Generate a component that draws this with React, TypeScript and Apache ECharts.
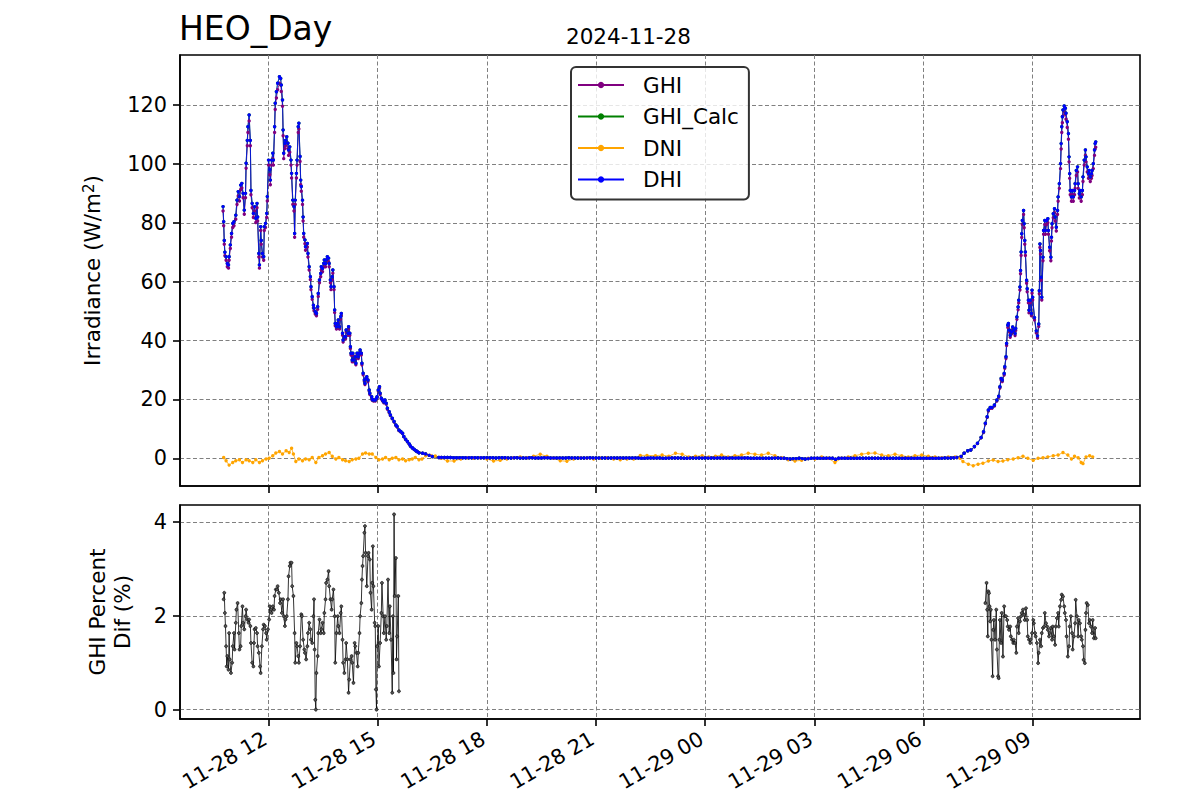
import React, { useEffect, useRef } from 'react';
import * as echarts from 'echarts';

// time values: minutes after 2024-11-28 00:00
const tDay1 = [645,646,647,648,650,652,654,655,657,659,661,663,666,668,670,672,674,676,678,680,682,683,685,686,688,690,691,693,695,697,699,701,702,704,705,707,708,710,712,713,715,717,718,720,722,723,725,727,728,730,731,733,735,738,740,741,743,744,745,747,748,750,752,753,755,757,758,760,762,763,764,766,767,769,770,772,773,774,776,777,778,780,781,784,785,787,789,790,792,794,795,797,799,801,802,804,806,807,809,811,812,814,815,817,819,820,822,823,825,826,828,829,830,832,834,835,837,839,840,842,843,845,847,848,851,852,854,855,856,858,859,861,863,864,866,868,869,871,873,874,876,878,879,881,882,884,886,887,890,891,893,896,898,899,901,903,904,906,908,910,912,914,916,919,921,924,927,930,932,935,938,941,943,946,949,952,954,957,960,963,965,968,974,979,985,990,1001];
const dhiDay1 = [85.5,80.4,74,70,68.5,66.2,65.7,68.5,72.5,76.4,79.8,80.4,82.6,87.7,90.6,88.9,92.8,93.4,90,84.3,90,100.2,108,112.6,116.6,108,91,86.6,83.2,85.5,81.5,86.6,82,69.6,65.7,78.7,74,69.6,68.5,78.7,79.8,83.2,88.9,101.3,98,94.5,101.3,103.6,101.3,112.6,120.6,124.5,127.4,129.6,129,126.8,121.7,111.5,103.6,107,108,109.2,107,104.7,105.8,101.3,96.8,87.7,85.5,76.4,87.7,96.8,101.3,112.6,113.8,102.5,94.5,92.3,87.7,82,76.4,74.2,71.9,73,69.6,65.1,61.7,58.3,54.9,52,51,49.8,49.2,51.5,56,60.6,62.8,65.1,64.5,66.2,67.4,66.2,67.4,68.5,68,66.2,60.6,58.3,61.7,64,58.3,50.4,45.8,44.7,45.8,47,44.7,48.1,49.2,42.5,40.2,41.3,41.3,43.6,42.5,44.7,42.5,37.9,35.7,33.4,35.7,33.4,34.5,32.3,35.7,34.5,35.7,36.8,35.7,32.3,28.9,26.6,25.5,27.2,27.7,26.6,23.2,22.1,20.9,20,19.8,19.8,20.4,20.9,23.2,24.3,22.1,20.4,19.8,19.2,19.8,18.7,17,15.8,14.7,13.6,12.5,11.3,10.8,9.6,9.1,8.5,7.4,6.5,5.7,4.9,4.2,3.6,3.1,2.6,2.3,1.9,1.7,1.5,1.0,0.6,0.3];
const ghiDay1 = [84.0,79.0,72.7,68.8,67.3,65.1,64.6,67.3,71.3,75.1,78.4,79.0,81.2,86.2,89.1,87.4,91.2,91.8,88.5,82.9,88.5,98.5,106.2,110.7,114.6,106.2,89.5,85.1,81.8,84.0,80.1,85.1,80.6,68.4,64.6,77.4,72.7,68.4,67.3,77.4,78.4,81.8,87.4,99.6,96.3,92.9,99.6,101.8,99.6,110.7,118.5,122.4,125.2,127.4,126.8,124.6,119.6,109.6,101.8,105.2,106.2,107.3,105.2,102.9,104.0,99.6,95.2,86.2,84.0,75.1,86.2,95.2,99.6,110.7,111.9,100.8,92.9,90.7,86.2,80.6,75.1,72.9,70.7,71.8,68.4,64.0,60.7,57.3,54.0,51.1,50.1,49.0,48.4,50.6,55.0,59.6,61.7,64.0,63.4,65.1,66.3,65.1,66.3,67.3,66.8,65.1,59.6,57.3,60.7,62.9,57.3,49.5,45.0,43.9,45.0,46.2,43.9,47.3,48.4,41.8,39.5,40.6,40.6,42.9,41.8,43.9,41.8,37.3,35.1,32.8,35.1,32.8,33.9,31.8,35.1,33.9,35.1,36.2,35.1,31.8,28.4,26.1,25.1,26.7,27.2,26.1,22.8,21.7,20.5,19.7,19.5,19.5,20.1,20.5,22.8,23.9,21.7,20.1,19.5,18.9,19.5,18.4,16.7,15.5,14.5,13.4,12.3,11.1,10.6,9.4,8.9,8.4,7.3,6.4,5.6,4.8,4.1,3.5,3.0,2.6,2.3,1.9,1.7,1.5,1.0,0.6,0.3];

const nightStart = 1005;
const nightStep = 5;
const dhiNight = [
  0.3,0.3,0.3,0.3,0.2,0.2,0.2,0.2,0.2,0.2,0.2,0.2,0.2,0.2,0.2,0.2,
  0.2,0.2,0.1,0.2,0.2,0.2,0.1,0.1,0.2,0.2,0.1,0.1,0.1,0.2,0.2,0.1,0.1,0.1,0.2,0.2,0.1,0.1,0.1,0.1,0.1,0.1,0.2,0.1,0.1,0.1,0.1,0.1,0.1,0.2,0.1,0.1,
  0.1,0.1,0.1,0.1,0.1,0.1,0.1,0.1,0.1,0.1,0.1,0.1,0.1,0.1,0,0,0.1,0.1,0.1,0.1,0.1,0,0,0.1,0.1,0.1,0.1,0.1,0,0,0.1,0.1,0.1,0.1,0.1,0.1,
  0.1,0.1,0.1,0.1,0.1,0.1,0.1,0.1,0.1,0.1,0.1,0.1,0.1,0.1,0,0,0,0,0,0,0,0,0.1,0.1,0,0,-0.1,-0.2,-0.1,-0.1,0,-0.1,-0.2,-0.1,0,0,
  0,0,0,0,0,0,-0.3,0,0,0,0,0,0,0,0,0,0,0,0,0,0,0,0,0,0,0,0,0,0,0,0,0,0,0,0,0,
  0,0,0,0,0,0,0.1,0.1,0.1,0.2,0.3
];

const tDay2 = [1862,1867,1873,1878,1884,1889,1895,1899,1902,1905,1907,1910,1913,1917,1921,1924,1926,1928,1930,1933,1934,1936,1937,1939,1940,1942,1943,1945,1947,1949,1951,1952,1954,1956,1957,1959,1960,1961,1962,1963,1965,1966,1967,1968,1970,1971,1973,1974,1976,1978,1979,1980,1983,1986,1988,1990,1991,1992,1993,1994,1995,1997,1998,2000,2001,2003,2005,2006,2008,2010,2011,2012,2014,2016,2017,2019,2021,2022,2024,2026,2027,2028,2029,2030,2032,2034,2035,2037,2039,2040,2041,2042,2044,2045,2047,2049,2050,2052,2054,2055,2057,2058,2060,2062,2063,2065,2067,2068,2070,2072,2073,2075,2077,2078,2080,2082,2083,2084];
const dhiDay2 = [0.6,1.7,2.6,2.8,4.0,5.1,7.1,9.0,11.9,14.1,16.4,17.3,17.3,18.1,19.8,21.1,24.3,27.1,26.6,28.8,31.1,34.5,39.0,45.2,45.8,43.5,41.8,42.9,44.6,43.5,42.4,44.1,48.0,51.4,53.7,58.2,63.8,70.1,76.3,80.8,84.2,79.7,74.0,70.1,60.5,57.6,53.7,50.3,53.7,49.2,57.1,54.7,47.8,43.3,41.6,45.6,56.9,72.8,70.6,61.5,54.7,68.3,77.4,80.8,77.4,80.8,81.4,77.4,71.7,68.3,75.1,79.7,83.1,84.8,82.0,78.5,84.2,88.8,93.3,100.1,106.9,112.6,116.0,118.3,119.7,118.9,117.2,114.3,110.3,102.4,96.7,91.0,88.8,91.0,88.8,91.0,93.3,97.8,99.0,93.3,89.9,91.0,88.8,91.0,95.6,101.3,104.7,102.4,99.0,96.7,97.8,95.6,96.7,97.8,100.1,104.7,106.9,107.5];
const ghiDay2 = [0.6,1.7,2.6,2.8,3.9,5.0,7.0,8.8,11.7,13.9,16.1,17.0,17.0,17.8,19.5,20.7,23.9,26.6,26.1,28.3,30.6,33.9,38.3,44.4,45.0,42.8,41.1,42.2,43.8,42.8,41.7,43.4,47.2,50.5,52.8,57.2,62.7,68.9,75.0,79.4,82.8,78.3,72.7,68.9,59.5,56.6,52.8,49.4,52.8,48.4,56.1,53.8,47.0,42.6,40.9,44.8,55.9,71.6,69.4,60.5,53.8,67.1,76.1,79.4,76.1,79.4,80.0,76.1,70.5,67.1,73.8,78.3,81.7,83.4,80.6,77.2,82.8,87.3,91.7,98.4,105.1,110.7,114.0,116.3,117.7,116.9,115.2,112.4,108.4,100.7,95.1,89.5,87.3,89.5,87.3,89.5,91.7,96.1,97.3,91.7,88.4,89.5,87.3,89.5,94.0,99.6,102.9,100.7,97.3,95.1,96.1,94.0,95.1,96.1,98.4,102.9,105.1,105.7];

const tDni = [646,650,655,661,666,672,677,683,688,694,699,705,710,716,721,727,732,738,743,749,754,758,761,765,770,776,781,787,792,798,803,809,814,820,825,831,836,842,847,853,858,864,869,875,880,886,891,897,902,908,913,919,924,930,935,941,946,952,957,962,968,973,979,987,995,1004,1015,1026,1037,1048,1058,1069,1080,1091,1102,1113,1124,1135,1146,1157,1168,1179,1190,1201,1212,1223,1234,1245,1256,1267,1278,1289,1300,1311,1322,1333,1344,1358,1369,1380,1391,1402,1413,1424,1435,1446,1457,1467,1478,1489,1500,1511,1522,1533,1544,1555,1566,1577,1588,1599,1610,1621,1632,1643,1654,1665,1676,1687,1698,1709,1720,1731,1742,1753,1764,1775,1786,1797,1808,1819,1830,1841,1852,1860,1865,1874,1882,1890,1898,1907,1915,1923,1931,1939,1948,1956,1964,1972,1981,1989,1997,2005,2014,2022,2030,2038,2044,2049,2055,2060,2063,2068,2074,2079];
const dni = [0.3,-0.8,-2.3,-1.4,-0.8,-0.5,-1.4,-0.5,-0.8,-1.4,-0.5,-1.4,-0.8,-0.2,0,0.9,1.8,2.3,1.5,2.6,2.0,3.4,1.5,-1.1,-0.2,-0.8,-0.2,-0.5,0.3,-1.4,0.3,0.9,1.5,2.0,0.7,-0.2,0.3,-0.5,-0.8,-1.1,-0.5,-0.2,0,1.5,1.8,1.5,1.5,0.3,-0.5,-0.2,0.3,-0.5,0,0.3,-0.5,-0.2,-0.8,-0.5,-0.2,0.3,-0.5,-0.2,0.9,1.0,0.8,0,-0.9,-0.9,-0.2,0.2,0,0.2,-0.2,-0.9,-0.7,-0.2,0.2,0.5,0.2,0.7,1.4,0.7,0,-0.8,-1.0,-0.2,0.2,0,-0.2,0,0.2,-0.2,-0.5,-0.2,-0.2,1.0,1.0,0.9,1.1,0.7,1.7,1.4,0.5,0.7,0.9,0.5,0.7,1.1,0.5,0.9,1.1,1.7,1.4,1.1,1.7,0.9,0.2,-0.5,-0.9,-0.7,0,-0.2,0.5,0,-1.4,0,0.5,0.9,1.4,1.7,1.8,1.1,0.9,1.4,0.9,0.5,0.9,1.1,0.7,0.5,0.2,0.5,0.5,0,-1.1,-2.0,-2.5,-2.0,-1.7,-0.9,-0.6,-1.1,-0.9,-0.5,-0.2,0.2,0.7,0,-0.7,0,0.2,0.5,0.9,1.1,2.0,1.1,-0.2,0.7,0.2,-1.4,-1.8,0.5,0.9,0.5];

const tPd1 = [646,647,648,649,650,651,652,654,655,656,658,660,661,663,664,666,667,669,671,672,674,675,677,678,680,682,683,685,687,688,690,691,693,695,696,697,699,701,702,704,706,707,709,711,712,714,716,717,719,721,722,724,725,727,729,730,732,734,735,737,739,740,742,744,745,747,748,750,752,753,755,756,758,759,761,763,764,766,767,769,770,772,774,775,777,779,780,782,784,785,787,789,790,792,794,795,796,797,798,799,801,802,804,806,807,809,811,812,814,815,817,819,820,822,824,825,827,829,830,832,834,835,837,839,840,842,843,845,847,848,850,852,853,855,857,858,860,862,863,865,867,868,870,871,873,874,875,876,878,879,880,882,884,885,887,888,890,891,892,893,895,896,897,898,899,901,902,904,906,907,909,910,912,914,915,917,919,920,922,924,925,926,927,928,930,931,932,934,935];
const pd1 = [2.35,2.49,2.06,1.78,1.35,0.92,1.14,0.85,1.63,1.07,0.78,1.0,1.35,1.63,1.28,1.85,2.13,2.27,1.63,1.28,1.35,1.78,2.2,1.85,1.71,1.99,2.13,1.92,1.85,1.92,1.78,1.42,1.0,0.92,1.42,1.71,1.74,1.63,1.35,1.21,0.92,0.78,1.35,1.71,1.81,1.78,1.63,1.49,1.71,1.92,2.2,2.13,2.06,2.2,2.13,2.42,2.56,2.56,2.63,2.49,2.27,2.35,2.06,2.35,1.99,1.78,1.92,1.99,2.35,2.84,3.06,3.13,3.13,2.63,2.42,1.63,1.0,1.42,1.35,1.14,1.0,1.35,2.03,1.99,1.49,1.28,1.21,1.07,1.35,1.63,1.85,1.71,1.49,1.42,1.99,2.35,1.28,0.21,0,0.78,1.14,1.63,1.92,1.63,1.71,1.85,1.63,2.06,2.35,2.7,2.77,2.95,2.63,2.35,2.13,2.35,2.56,1.99,1.0,1.63,1.99,1.78,1.63,2.06,2.2,1.49,1.0,0.78,1.07,1.42,1.07,0.36,0.64,1.07,1.14,1.0,0.57,1.42,1.35,1.21,0.92,1.21,1.63,1.99,2.27,2.77,3.06,3.27,3.77,3.91,3.34,2.63,3.27,3.34,3.2,2.49,2.13,2.7,3.48,2.63,1.85,1.78,0.43,0,1.35,1.78,0.92,1.42,2.06,2.7,1.99,1.63,1.99,1.49,1.78,2.77,1.63,2.2,1.49,0.36,1.99,0.78,4.16,2.42,3.23,1.07,1.56,2.42,0.39];
const tPd2 = [1902,1904,1905,1906,1907,1908,1909,1910,1911,1912,1914,1915,1916,1918,1920,1921,1923,1924,1925,1926,1928,1929,1931,1933,1934,1936,1938,1939,1941,1943,1944,1946,1948,1949,1951,1953,1954,1956,1957,1959,1961,1962,1964,1966,1967,1969,1971,1972,1974,1976,1977,1979,1981,1982,1984,1985,1987,1989,1990,1992,1994,1995,1997,1999,2000,2002,2004,2005,2007,2008,2010,2012,2013,2015,2017,2018,2020,2022,2023,2025,2027,2028,2030,2032,2033,2035,2036,2038,2040,2041,2043,2045,2046,2048,2050,2051,2053,2055,2056,2058,2060,2061,2063,2064,2066,2067,2068,2069,2071,2073,2074,2076,2078,2079,2081,2083,2084];
const pd2 = [2.27,2.70,2.13,1.56,2.52,2.48,2.2,1.88,2.13,1.49,0.71,1.7,1.91,1.49,2.13,1.28,0.71,0.67,1.49,1.91,1.42,2.06,1.13,2.2,1.99,1.99,1.91,1.77,1.7,1.77,1.56,1.49,1.42,1.49,1.42,1.21,1.77,1.95,1.63,1.88,1.99,2.06,2.13,2.02,1.91,2.16,1.91,1.56,1.49,1.42,1.49,1.63,1.91,1.84,1.63,1.56,1.42,0.99,1.21,1.49,1.35,1.63,1.74,1.77,2.06,1.84,1.77,1.7,1.56,1.63,1.74,1.49,1.77,1.56,1.38,1.77,1.95,2.06,1.77,2.2,2.34,2.45,2.41,2.2,2.06,1.91,1.56,1.13,1.35,1.77,1.99,1.63,1.28,1.56,1.84,2.34,1.99,1.56,1.91,1.84,1.56,1.49,1.35,1.06,0.99,1.7,2.06,2.27,2.23,1.84,1.91,1.77,1.63,1.91,1.52,1.74,1.52];

const xTicks = [720, 900, 1080, 1260, 1440, 1620, 1800, 1980];
const topYTicks = [0, 20, 40, 60, 80, 100, 120];
const bottomYTicks = [0, 2, 4];
const seriesNames = ['GHI', 'GHI_Calc', 'DNI', 'DHI'];
const seriesColors = ['#800080', '#008000', '#FFA500', '#0000FF'];

const FONT = 'DejaVu Sans';
const LABEL_SIZE = 21.5;

function pairs(ts: number[], vs: number[]) {
  return ts.map((t, i) => [t, vs[i]]);
}
function nightPairs(vs: number[]) {
  return vs.map((v, i) => [nightStart + i * nightStep, v]);
}
function fmtX(m: number) {
  const day = m >= 1440 ? '11-29' : '11-28';
  const h = Math.floor((m % 1440) / 60);
  return `${day} ${String(h).padStart(2, '0')}`;
}

export default function App() {
  const ref = useRef<HTMLDivElement>(null);
  useEffect(() => {
    if (!ref.current) return;
    const chart = echarts.init(ref.current, null, { renderer: 'svg' });
    const ghiData = [...pairs(tDay1, ghiDay1), ...nightPairs(dhiNight), ...pairs(tDay2, ghiDay2)];
    const dhiData = [...pairs(tDay1, dhiDay1), ...nightPairs(dhiNight), ...pairs(tDay2, dhiDay2)];
    const dniData = pairs(tDni, dni);
    const seriesData = [ghiData, dhiData, dniData, dhiData];

    const gridLine = { show: true, lineStyle: { color: '#808080', type: [4, 2.5], width: 1 } };
    const axisLineStyle = { color: '#000', width: 1.6 };

    const xAxisBase = (gridIndex: number, showLabel: boolean) => ({
      type: 'value',
      gridIndex,
      min: 574,
      max: 2157,
      axisLine: { show: true, onZero: false, lineStyle: axisLineStyle },
      axisTick: { show: true, customValues: xTicks, length: 7, inside: false, lineStyle: axisLineStyle },
      axisLabel: {
        show: showLabel,
        customValues: xTicks,
        formatter: (v: number) => fmtX(v),
        rotate: 30,
        fontSize: 20.8,
        color: '#000',
        fontFamily: FONT,
        margin: 16,
        padding: [0, 4, 0, 0],
      },
      splitLine: gridLine,
    });

    const option: any = {
      animation: false,
      textStyle: { fontFamily: FONT },
      title: [
        { text: 'HEO_Day', left: 179, top: 12, padding: 0, textStyle: { fontSize: 33, fontWeight: 'normal', color: '#000', fontFamily: FONT } },
        { text: '2024-11-28', left: 566, top: 25, padding: 0, textStyle: { fontSize: LABEL_SIZE, fontWeight: 'normal', color: '#000', fontFamily: FONT } },
      ],
      legend: {
        show: true,
        orient: 'vertical',
        left: 571,
        top: 67,
        data: seriesNames,
        itemWidth: 46,
        itemHeight: 8,
        itemGap: 7.5,
        padding: [6, 10, 8, 6],
        backgroundColor: 'rgba(255,255,255,0.8)',
        borderColor: '#333',
        borderWidth: 2,
        borderRadius: 5,
        selectedMode: false,
        textStyle: { fontSize: LABEL_SIZE, color: '#000', fontFamily: FONT, padding: [0, 0, 0, 14], lineHeight: 24 },
      },
      grid: [
        { left: 180, top: 55, width: 960, height: 431, show: true, borderColor: '#000', borderWidth: 1.6, backgroundColor: 'transparent', outerBoundsMode: 'none', containLabel: false },
        { left: 180, top: 505, width: 960, height: 214, show: true, borderColor: '#000', borderWidth: 1.6, backgroundColor: 'transparent', outerBoundsMode: 'none', containLabel: false },
      ],
      xAxis: [xAxisBase(0, false), xAxisBase(1, true)],
      yAxis: [
        {
          type: 'value',
          gridIndex: 0,
          min: -9.4,
          max: 137,
          name: 'Irradiance (W/m{sup|2})',
          nameLocation: 'middle',
          nameRotate: 90,
          nameGap: 76,
          nameTextStyle: {
            fontSize: LABEL_SIZE,
            color: '#000',
            fontFamily: FONT,
            rich: { sup: { fontSize: 15, color: '#000', fontFamily: FONT, verticalAlign: 'top', padding: [0, 0, 8, 0] } },
          },
          axisLine: { show: true, onZero: false, lineStyle: axisLineStyle },
          axisTick: { show: true, customValues: topYTicks, length: 7, lineStyle: axisLineStyle },
          axisLabel: { customValues: topYTicks, fontSize: 20.8, color: '#000', fontFamily: FONT, margin: 13 },
          splitLine: gridLine,
        },
        {
          type: 'value',
          gridIndex: 1,
          min: -0.2,
          max: 4.36,
          name: 'GHI Percent\nDif (%)',
          nameLocation: 'middle',
          nameRotate: 90,
          nameGap: 45,
          nameTextStyle: { fontSize: LABEL_SIZE, color: '#000', fontFamily: FONT, lineHeight: 25 },
          axisLine: { show: true, onZero: false, lineStyle: axisLineStyle },
          axisTick: { show: true, customValues: bottomYTicks, length: 7, lineStyle: axisLineStyle },
          axisLabel: { customValues: bottomYTicks, fontSize: 20.8, color: '#000', fontFamily: FONT, margin: 13 },
          splitLine: gridLine,
        },
      ],
      series: [
        ...seriesNames.map((name, i) => ({
          name,
          type: 'line',
          xAxisIndex: 0,
          yAxisIndex: 0,
          data: seriesData[i],
          symbol: 'circle',
          symbolSize: 3.4,
          showSymbol: true,
          showAllSymbol: true,
          silent: true,
          color: seriesColors[i],
          itemStyle: { color: seriesColors[i] },
          lineStyle: { color: seriesColors[i], width: 0.8 },
          emphasis: { disabled: true },
        })),
        ...[pairs(tPd1, pd1), pairs(tPd2, pd2)].map((d) => ({
          type: 'line',
          xAxisIndex: 1,
          yAxisIndex: 1,
          data: d,
          symbol: 'circle',
          symbolSize: 3,
          showSymbol: true,
          showAllSymbol: true,
          silent: true,
          itemStyle: { color: '#555', borderColor: '#000', borderWidth: 0.6 },
          lineStyle: { color: '#000', width: 0.8 },
          emphasis: { disabled: true },
        })),
      ],
    };
    chart.setOption(option);
    return () => chart.dispose();
  }, []);
  return <div ref={ref} style={{ position: 'absolute', left: 0, top: 0, width: 1200, height: 800, background: '#fff' }} />;
}
